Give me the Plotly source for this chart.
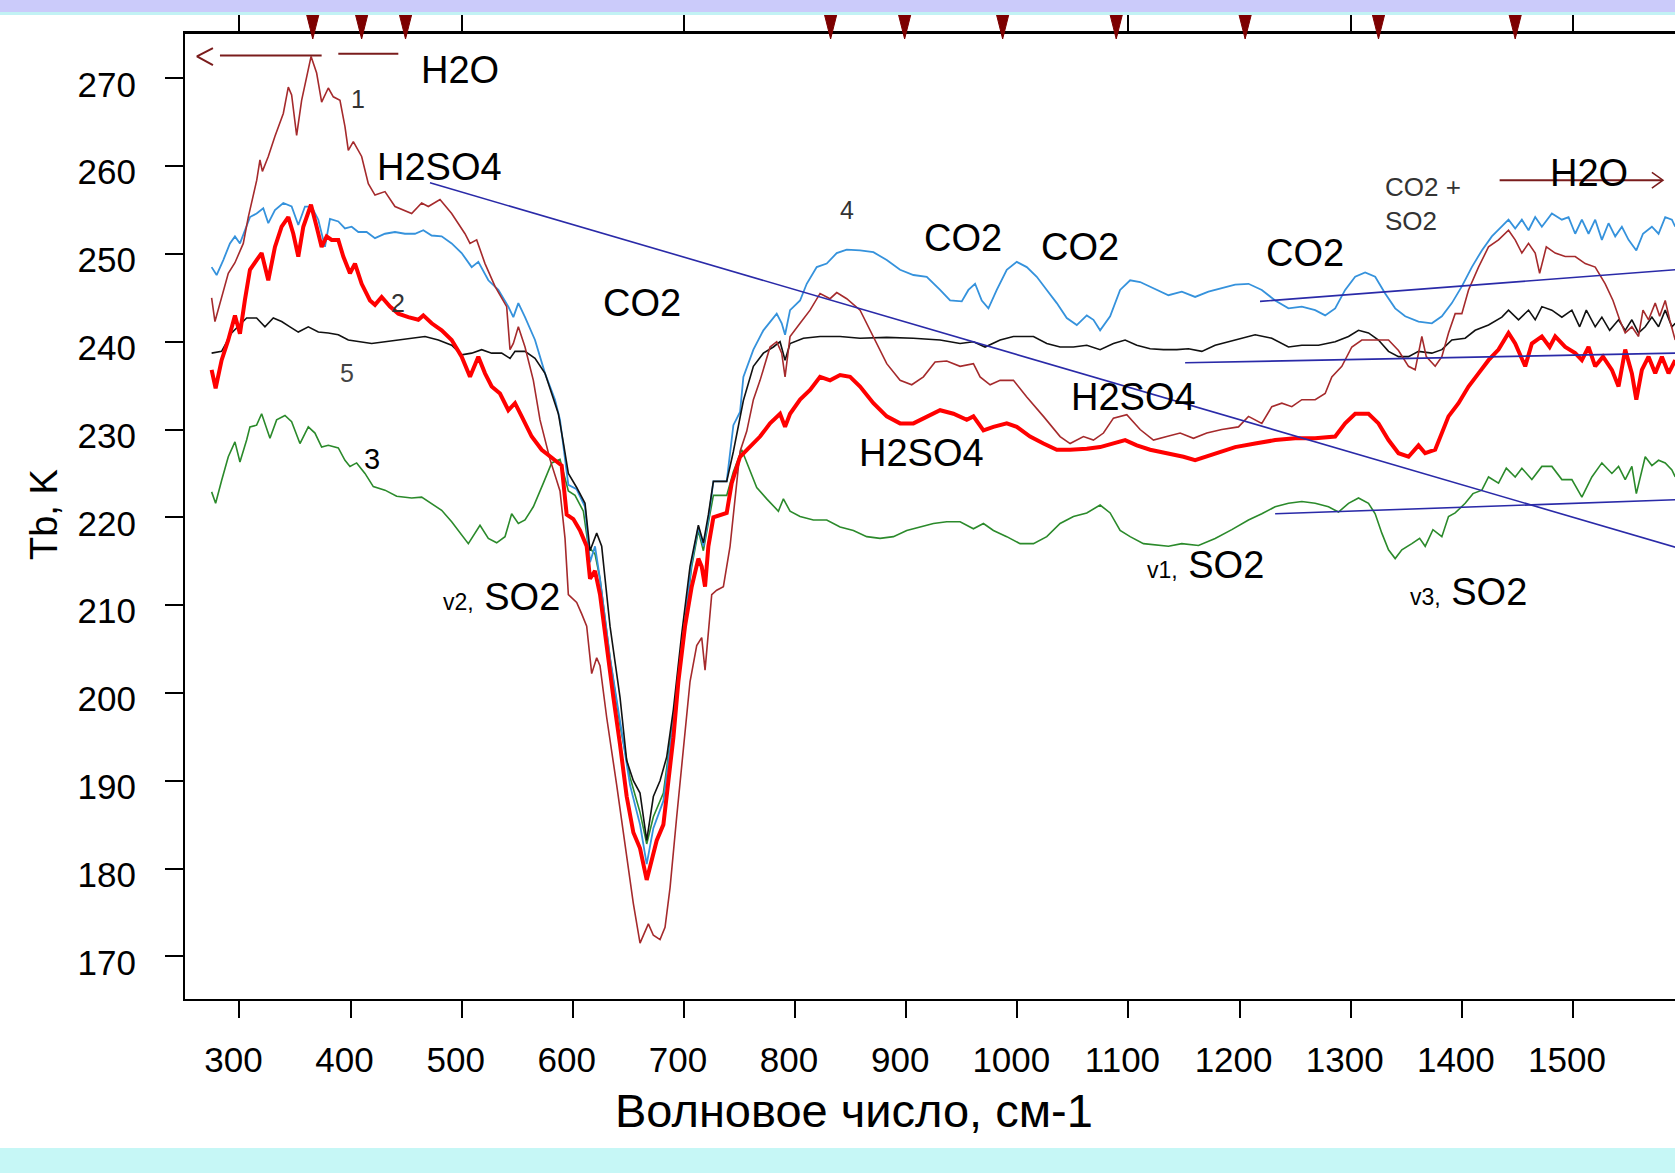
import plotly.graph_objects as go

# ---------------- data ----------------
# curve 1 (dark red)
C1_V = [275, 278, 290, 296, 303.5, 308, 315.6, 318.5, 320.7, 326, 332, 339.5, 344, 347, 351.5, 356, 364.5, 369.5, 374, 380,
        384.5, 390.5, 395, 398, 402.5, 410, 416, 422, 431, 440, 455, 464, 470, 480.5, 491, 503, 507.5, 513.5, 521, 530,
        540.5, 543.5, 546.5, 551, 557, 564.5, 570.5, 579.5, 588.5, 593, 596, 603.5, 608, 612.5, 617, 621.5, 624.5, 630.5,
        639.5, 648.5, 654.5, 660.5, 668, 672.5, 678.5, 683, 687.5, 693.5, 699.5, 705.5, 711.5, 716, 719, 722, 725, 729.5,
        735.5, 741.5, 746, 750.5, 756.5, 762.5, 768.5, 777.5, 783.5, 788, 791, 795.5, 804.5, 813.5, 822.5, 831.5, 837.5,
        846.5, 858.5, 870.5, 882.5, 894.5, 905, 915.5, 926, 936.5, 948.5, 960.5, 966.5, 975.5, 984.5, 996.5, 1008.5,
        1023.5, 1038.5, 1047.5, 1059.5, 1068.5, 1077.5, 1086.5, 1098.5, 1110.5, 1122.5, 1134.5, 1146.5, 1158.5, 1170.5,
        1184, 1199, 1208, 1220, 1229, 1238, 1247, 1256, 1268, 1277, 1283, 1292, 1301, 1310, 1322, 1334, 1343, 1352, 1358,
        1364, 1368, 1376, 1382, 1388, 1394, 1400, 1406, 1415, 1424, 1433, 1442, 1448, 1454, 1460, 1466, 1470, 1476, 1484,
        1493, 1502, 1511, 1520, 1529, 1536, 1542, 1547, 1553, 1559, 1563, 1568, 1574, 1578, 1583, 1587, 1592]
C1_T = [245, 242.3, 247.8, 249, 251.2, 254.2, 258.4, 260.7, 259.4, 261.1, 263.4, 266, 269, 268.1, 263.5, 267.5, 272.5, 270.6,
        267.3, 268.9, 267.9, 267.5, 264.5, 261.8, 262.8, 261.1, 258, 256.7, 257.1, 255.4, 254.6, 255.8, 255.4, 256.2, 254.6,
        252.3, 251.2, 251.6, 248.9, 246.3, 244, 239.1, 239.8, 241.7, 239.4, 235.6, 231.1, 226.6, 223, 217.6, 211.2, 210.3,
        209, 207.6, 202.2, 204, 203.1, 197.2, 189.5, 181.4, 176, 171.5, 173.7, 172.4, 171.9, 173.3, 177.8, 185.9, 193.6,
        201.3, 205.4, 206.3, 202.6, 206.7, 211.2, 211.7, 212.1, 216.7, 222.1, 227.5, 229.8, 233.4, 235.6, 239.4, 240, 238.7,
        236, 240.6, 242.1, 243.6, 245.5, 244.9, 245.6, 244.9, 243.6, 240.6, 237.5, 235.6, 235.1, 236, 237.7, 237.8, 237.2,
        237.5, 236, 235.1, 235.6, 235.6, 233.7, 231.5, 229.2, 228.4, 229.2, 228.8, 229.6, 231.3, 231.7, 230, 228.8, 229.2,
        229.6, 229, 229.6, 230, 230.3, 231.5, 230.7, 232.6, 233, 232.6, 233.4, 233.4, 234.1, 236, 237.2, 239.4, 240.2,
        240.2, 240.2, 239, 237.2, 236.8, 240.6, 238.3, 237.2, 238.3, 241, 243.2, 243.2, 245.9, 248.5, 250.8, 251.6, 252.7,
        251.6, 250.1, 251.2, 250.1, 247.8, 250.8, 250.1, 249.7, 249.7, 248.9, 248.5, 246.6, 244.7, 242.5, 241, 241.7,
        240.6, 243.6, 242.5, 244.4, 242.9, 244.7, 242.5, 240.2]

# curve 2 (bright red, thick)
C2_V = [275, 278.6, 284, 290, 296, 300.5, 305, 309.5, 315.5, 320, 326, 332, 338, 344, 348.5, 353, 357.5, 364.4, 369.5, 374,
        378.5, 383, 389, 393.5, 399.5, 404, 410, 417.5, 422, 428, 435.5, 443, 452, 461, 465.5, 473, 482, 491, 500, 507.5,
        515, 521, 527, 534.5, 542, 548, 554, 563, 572, 582.5, 590, 594.5, 600.5, 606.5, 612.5, 615.5, 620, 624.5, 630.5,
        636.5, 642.5, 648.5, 654.5, 660.5, 666.5, 671, 675.5, 681.5, 686, 690.5, 695, 701, 707, 713, 716, 719, 722, 726.5,
        738.5, 743, 750.5, 759.5, 768.5, 777.5, 786.5, 791, 795.5, 804.5, 813.5, 822.5, 831.5, 840.5, 849.5, 858.5, 870.5,
        882.5, 894.5, 906.5, 918.5, 930.5, 942.5, 954.5, 960.5, 969.5, 978.5, 990.5, 999.5, 1011.5, 1023.5, 1035.5, 1047.5,
        1062.5, 1074.5, 1086.5, 1097, 1107.5, 1119.5, 1134.5, 1149.5, 1160, 1178, 1196, 1214, 1232, 1250, 1268, 1286, 1295,
        1304, 1316, 1325, 1334, 1343, 1352, 1361, 1367, 1376, 1382, 1388, 1397, 1406, 1415, 1424, 1433, 1442, 1448, 1457,
        1463, 1472, 1479, 1484, 1493, 1502, 1508, 1514, 1520, 1527, 1535, 1541, 1547, 1553, 1557, 1562, 1568, 1574, 1580,
        1586, 1592]
C2_T = [236.8, 234.7, 237.9, 240.2, 243, 240.9, 244.8, 248.2, 249.3, 250.1, 247, 250.8, 253.1, 254.2, 252.3, 249.7, 253.1,
        255.6, 253.1, 250.8, 252, 251.6, 251.6, 249.7, 247.8, 248.9, 246.6, 244.7, 244.2, 245.1, 244, 243.2, 242.8, 242.5,
        243, 242.1, 241.3, 240.2, 238.3, 236, 238.3, 236.4, 234.9, 234.1, 232.2, 233, 231.5, 229.2, 227.7, 226.6, 225.9,
        220.3, 219.8, 218.5, 216.7, 213, 213.9, 211.2, 204.9, 199.5, 194.1, 188.2, 184.1, 182.3, 178.7, 181, 183.2, 185,
        189.5, 194.9, 201.3, 207.6, 212.1, 215.3, 214.4, 212.1, 216.7, 220, 220.5, 223.9, 226.9, 228, 229.2, 230.7, 231.8,
        230.3, 231.8, 233.4, 234.5, 236, 235.6, 236.2, 236, 234.9, 233, 231.5, 230.7, 230.7, 231.5, 232.2, 231.8, 231.1,
        231.5, 229.9, 230.3, 230.7, 230.3, 229.2, 228.4, 227.7, 227.7, 227.8, 228, 228.4, 228.8, 228.2, 227.7, 227.3,
        226.9, 226.5, 227.3, 228, 228.4, 228.8, 229, 229, 229.2, 230.7, 231.8, 231.8, 230.7, 228.8, 227.3, 226.9, 228.2,
        227.3, 227.7, 229.6, 231.5, 233, 234.9, 236.4, 237.9, 239.1, 241, 239.8, 237.2, 239.8, 240.6, 239.4, 240.6, 239.4,
        238.7, 237.9, 239.4, 237.2, 238.3, 236.8, 234.9, 239.1, 236.4, 233.4, 236.8, 238.3, 236.4, 238.3, 236.4, 237.9]

# curve 3 (green)
C3_V = [275, 278.6, 284, 290, 296, 300.5, 306.5, 309.5, 315.5, 320, 327.5, 333.5, 341, 347, 354.5, 362, 368, 374, 380, 389,
        395, 399.5, 405.5, 413, 420.5, 431, 441.5, 455, 464, 473, 482, 491, 498.5, 506, 516.5, 524, 531.5, 539, 545, 551,
        557, 564.5, 573.5, 581, 588.5, 596, 602, 609.5, 614, 620, 624.5, 633.5, 642.5, 651.5, 660.5, 666.5, 672.5, 681.5,
        690.5, 699.5, 707, 713, 717.5, 722, 726.5, 738.5, 744.5, 752, 758, 765.5, 774.5, 785, 789.5, 795.5, 804.5, 816.5,
        828.5, 840.5, 852.5, 864.5, 876.5, 888.5, 900.5, 912.5, 924.5, 936.5, 948.5, 960.5, 969.5, 978.5, 990.5, 1002.5,
        1014.5, 1026.5, 1038.5, 1050.5, 1062.5, 1074.5, 1083.5, 1092.5, 1101.5, 1113.5, 1125.5, 1136, 1148, 1163, 1178,
        1193, 1208, 1220, 1232, 1244, 1256, 1268, 1280, 1289, 1298, 1307, 1316, 1322, 1328, 1334, 1340, 1346, 1355, 1362,
        1367, 1374, 1382, 1388, 1394, 1403, 1410, 1418, 1424, 1433, 1440, 1448, 1454, 1463, 1472, 1481, 1490, 1499, 1508,
        1517, 1526, 1535, 1541, 1547, 1553, 1557, 1565, 1571, 1577, 1583, 1589, 1592]
C3_T = [222.9, 221.6, 224.2, 226.9, 228.6, 226.3, 228.8, 230.3, 230.5, 231.8, 229, 231.1, 231.6, 230.9, 228.4, 230.3, 229.6,
        228, 228.2, 227.9, 226.5, 225.8, 226.2, 225, 223.5, 223.1, 222.4, 222.2, 222.3, 221.6, 220.8, 219.5, 218.2, 217,
        219.1, 217.6, 217.1, 217.8, 220.4, 219.3, 219.7, 221.2, 223.9, 226.2, 226.6, 223, 222.5, 220.7, 216.7, 215.8, 213,
        204, 196.3, 190.4, 186.4, 182.8, 185.9, 188.6, 197.2, 206.7, 214.4, 218.5, 216.2, 219.4, 222.5, 222.5, 225.2, 227.7,
        225.7, 223.4, 222.1, 220.7, 222.1, 220.7, 220.1, 219.7, 219.7, 218.9, 218.5, 217.8, 217.6, 217.8, 218.5, 218.9,
        219.3, 219.5, 219.5, 218.7, 219.3, 218.5, 217.8, 217, 217, 217.8, 219.3, 220.1, 220.5, 221.4, 220.5, 218.5, 217.8,
        217, 216.8, 216.7, 217, 216.8, 217.6, 218.6, 219.7, 220.4, 221.2, 221.6, 221.8, 221.6, 221.2, 220.6, 221.6, 222.2,
        221.6, 220.4, 218.2, 216.3, 215.3, 216.3, 217, 217.6, 216.7, 218.6, 217.8, 220.1, 220.5, 221.6, 222.7, 223.1,
        224.6, 223.9, 225.6, 224.6, 225.6, 224.3, 225.8, 225.8, 224.3, 224.3, 222.3, 224.6, 226.2, 225, 225.8, 224.3,
        225.8, 222.7, 226.9, 225.9, 226.5, 226.2, 225.4, 224.6]

# curve 4 (light blue)
C4_V = [275, 279.5, 285.5, 291.5, 296, 300.5, 305, 309.5, 315.5, 321.5, 326, 332, 339.5, 347, 353, 359, 365, 371, 377, 381.5,
        389, 395, 401, 407, 414.5, 422, 431, 440, 449, 458, 465.5, 473, 482, 491, 500, 509, 515, 524, 533, 542, 546.5, 551,
        557, 566, 575, 584, 588.5, 593, 596, 603.5, 611, 615.5, 620, 624.5, 633.5, 642.5, 651.5, 660.5, 666.5, 672.5,
        681.5, 690.5, 699.5, 707, 713, 717.5, 722, 726.5, 738.5, 744.5, 750.5, 753.5, 762.5, 771.5, 783.5, 788, 791,
        795.5, 804.5, 810.5, 819.5, 828.5, 837.5, 846.5, 858.5, 870.5, 882.5, 894.5, 906.5, 918.5, 930.5, 939.5, 950, 956,
        962, 968, 974, 981.5, 990.5, 999.5, 1008.5, 1017.5, 1026.5, 1035.5, 1044.5, 1053.5, 1062.5, 1068.5, 1074.5,
        1083.5, 1092.5, 1101.5, 1110.5, 1122.5, 1136, 1148, 1160, 1172, 1184, 1196, 1208, 1220, 1232, 1244, 1256, 1268,
        1277, 1286, 1295, 1304, 1313, 1322, 1331, 1340, 1349, 1361, 1373, 1382, 1391, 1400, 1409, 1418, 1427, 1436, 1442,
        1448, 1454, 1460, 1466, 1472, 1481, 1490, 1496, 1502, 1508, 1514, 1520, 1526, 1532, 1538, 1544, 1550, 1557, 1563,
        1571, 1577, 1583, 1589, 1592]
C4_T = [248.5, 247.6, 249.3, 251.2, 252, 251.2, 252.7, 254.2, 254.6, 255.2, 253.5, 255, 255.8, 255.4, 253.3, 255.4, 255.4,
        253.9, 250.8, 254, 253.7, 252.9, 253.1, 252.5, 252.5, 251.8, 252.3, 252.5, 252.3, 252.3, 252.7, 252.1, 252, 251.2,
        250.1, 248.5, 249.1, 247, 245.9, 244, 242.8, 244.4, 242.8, 240.2, 236.4, 233.4, 231.1, 226.6, 223.7, 223.2, 221.2,
        214.9, 216.7, 213, 204, 196.8, 189.5, 185, 180.5, 184.6, 187.7, 196.8, 206.7, 214.9, 218.9, 216.7, 219.8, 224.1,
        224.1, 230.5, 232, 236, 239.1, 241.3, 243.2, 242.1, 240.8, 243.6, 244.7, 246.6, 248.5, 248.9, 250.1, 250.5, 250.4,
        250.2, 249.3, 248.2, 247.6, 247.4, 245.9, 244.7, 244.6, 245.9, 246.6, 244.7, 243.8, 245.9, 248.2, 249.1, 248.5,
        247.4, 245.9, 244.4, 242.7, 241.9, 243, 242.5, 241.3, 242.9, 245.9, 247, 246.8, 246.1, 245.3, 245.7, 245.1, 245.7,
        246.1, 246.5, 246.6, 245.9, 244.7, 243.8, 244, 243.6, 243, 243.8, 245.9, 247.4, 247.9, 247.4, 245.5, 243.8, 242.9,
        242.3, 242.1, 242.9, 244.4, 246.3, 248.5, 250.4, 252, 253.1, 253.9, 252.9, 253.9, 252.7, 254.2, 253.1, 254.6,
        253.9, 254.2, 252.3, 253.9, 252.3, 253.9, 251.6, 253.5, 252, 253.1, 251.6, 250.4, 252.3, 253.1, 252.3, 254.2,
        253.9, 253.1]

# curve 5 (black)
C5_V = [275, 284, 293, 300.5, 306.5, 315.5, 323, 330.5, 338, 345.5, 353, 362, 371, 380, 389, 398, 410, 419, 431, 443, 455,
        467, 479, 491, 500, 509, 518, 527, 536, 543.5, 548, 557, 566, 575, 581, 587, 591.5, 596, 603.5, 611, 615.5, 621.5,
        626, 633.5, 642.5, 648.5, 654.5, 660.5, 666.5, 672.5, 678.5, 684.5, 690.5, 698, 705.5, 713, 717.5, 722, 726.5,
        738.5, 744.5, 753.5, 762.5, 771.5, 780.5, 786.5, 791, 795.5, 807.5, 822.5, 840.5, 858.5, 882.5, 906.5, 930.5,
        948.5, 960.5, 971, 984.5, 996.5, 1014.5, 1026.5, 1038.5, 1050.5, 1062.5, 1074.5, 1086.5, 1097, 1107.5, 1119.5,
        1131.5, 1143.5, 1154, 1166, 1178, 1196, 1214, 1229, 1244, 1256, 1271, 1286, 1298, 1307, 1316, 1325, 1334, 1343,
        1352, 1361, 1373, 1382, 1391, 1403, 1412, 1424, 1436, 1442, 1451, 1460, 1466, 1472, 1481, 1490, 1499, 1506, 1512,
        1520, 1526, 1533, 1541, 1547, 1553, 1559, 1565, 1571, 1577, 1583, 1589, 1592]
C5_T = [238.7, 238.9, 241, 241.9, 242.7, 242.7, 241.7, 242.7, 242.3, 241.7, 241.1, 241.7, 241.1, 241, 240.8, 240.2, 240,
        239.8, 240, 240.2, 240.4, 240.6, 240.2, 239.6, 238.5, 238.7, 239.1, 238.7, 238.7, 238.1, 238.9, 238.9, 238.1,
        236.4, 234.1, 231.8, 228.5, 225, 223.4, 221.6, 216.2, 218.2, 216.7, 207.6, 199.5, 192.3, 190, 188.6, 183.2, 188.2,
        190, 192.7, 198.1, 206.7, 214.4, 219.1, 217.1, 220.3, 224.1, 224.1, 227.5, 233.3, 237.2, 238.7, 239.4, 240, 237.9,
        239.8, 240.4, 240.6, 240.6, 240.4, 240.5, 240.4, 240.2, 239.8, 240, 239.4, 240.2, 240.6, 240.6, 239.8, 239.4,
        239.4, 239.6, 239.1, 239.8, 240.2, 239.6, 239.2, 239.1, 239.1, 239.2, 238.9, 239.6, 240.2, 240.8, 240.4, 239.4,
        239.6, 239.6, 240, 240.6, 241.3, 241, 240.2, 238.9, 238.3, 238.3, 238.9, 238.7, 239.1, 240.2, 240.4, 241.3, 241.9,
        242.8, 243.6, 242.5, 243.6, 242.5, 244, 243.6, 242.8, 243.6, 241.7, 243.6, 241.7, 242.8, 241.3, 242.5, 241.3,
        242.5, 241, 241.7, 242.8, 241.7, 243.6, 241.7, 242.1]

# leader lines (navy)
LEAD_V = [[471.5, 1592], [1218.4, 1592], [1151, 1592], [1232, 1592]]
LEAD_T = [[258.1, 216.6], [244.6, 248.2], [237.6, 238.7], [220.4, 222.0]]

# H2O arrows (dark red)
ARROW_L_V = [282.5, 374]
ARROW_L2_V = [389, 443]
ARROW_L_T = 272.6
ARROW_HEAD_L_V = [276.2, 261.8, 276.2]
ARROW_HEAD_L_T = [273.45, 272.5, 271.5]
ARROW_R_V = [1434, 1580]
ARROW_R_T = 258.4
ARROW_HEAD_R_V = [1571, 1581, 1571]
ARROW_HEAD_R_T = [259.3, 258.4, 257.5]

# markers on top (wavenumbers)
TRI_V = [366, 410, 449.5, 832, 898.6, 986.8, 1089, 1205, 1325, 1448]

X_TICKS = [300, 400, 500, 600, 700, 800, 900, 1000, 1100, 1200, 1300, 1400, 1500]
X_TOP_TICKS = [300, 500, 700, 900, 1100, 1300, 1500]
Y_TICKS = [170, 180, 190, 200, 210, 220, 230, 240, 250, 260, 270]

LABELS = [
    ("H2O", 498.5, 270.9, 38, "#000", "center"),
    ("1", 407, 267.7, 25, "#333", "center"),
    ("H2SO4", 480.5, 259.9, 38, "#000", "center"),
    ("CO2", 662, 244.4, 38, "#000", "center"),
    ("2", 443, 244.4, 25, "#333", "center"),
    ("5", 396.5, 236.4, 25, "#444", "center"),
    ("3", 419, 226.7, 29, "#000", "center"),
    ("4", 846.5, 255.0, 25, "#333", "center"),
    ("CO2", 951.5, 251.8, 38, "#000", "center"),
    ("CO2", 1056.5, 250.8, 38, "#000", "center"),
    ("H2SO4", 1104.4, 233.7, 38, "#000", "center"),
    ("H2SO4", 914, 227.3, 38, "#000", "center"),
    ("CO2", 1258.9, 250.1, 38, "#000", "center"),
    ("H2O", 1514, 259.2, 38, "#000", "center"),
]
SO2_LABELS = [("v2,", 590.3, 210.9), ("v1,", 1223.8, 214.6), ("v3,", 1460, 211.5)]
SMALL_LABELS = [("CO2 +", 1329.3, 257.65), ("SO2", 1329.3, 253.7)]

# ---------------- figure ----------------
FONT = "Liberation Sans, Arial, sans-serif"
W, H = 1675, 1173
L, R, T, B = 185, 0, 34, 174
PW, PH = W - L - R, H - T - B


def px(xp):
    return (xp - L) / PW


def py(yp):
    return (H - B - yp) / PH


fig = go.Figure()


def line(v, t, color, width, xaxis="x"):
    fig.add_trace(go.Scatter(x=v, y=t, mode="lines", line=dict(color=color, width=width),
                             showlegend=False, hoverinfo="skip", xaxis=xaxis))


line(C3_V, C3_T, "#2b8a2b", 1.6)
line(C4_V, C4_T, "#3592dc", 1.8)
line(C5_V, C5_T, "#111111", 1.6)
line(C1_V, C1_T, "#a52a2c", 1.6)
line(C2_V, C2_T, "#ff0000", 4)
for lv, lt in zip(LEAD_V, LEAD_T):
    line(lv, lt, "#2a2aa8", 1.6)

AR = "#7a1c1c"
line(ARROW_L_V, [ARROW_L_T] * 2, AR, 2)
line(ARROW_L2_V, [ARROW_L_T + 0.2] * 2, AR, 2)
line(ARROW_HEAD_L_V, ARROW_HEAD_L_T, AR, 2)
line(ARROW_R_V, [ARROW_R_T] * 2, AR, 2, xaxis="x2")
line(ARROW_HEAD_R_V, ARROW_HEAD_R_T, AR, 1.5, xaxis="x2")

ann = []
for txt, v, t, size, col, anc in LABELS:
    ann.append(dict(x=v, y=t, xref="x", yref="y", text=txt, showarrow=False,
                    font=dict(size=size, color=col, family=FONT), xanchor=anc, yanchor="middle"))
for sub, v, t in SO2_LABELS:
    ann.append(dict(x=v, y=t, xref="x", yref="y", showarrow=False, xanchor="right", yanchor="middle",
                    text=f"<span style='font-size:23px'>{sub}</span> SO2",
                    font=dict(size=38, color="#000", family=FONT)))
for txt, v, t in SMALL_LABELS:
    ann.append(dict(x=v, y=t, xref="x", yref="y", text=txt, showarrow=False, xanchor="left", yanchor="middle",
                    font=dict(size=26, color="#333", family=FONT)))
ann.append(dict(x=px(854), y=py(1110), xref="paper", yref="paper", text="Волновое число, см-1",
                showarrow=False, xanchor="center", yanchor="middle",
                font=dict(size=47, color="#000", family=FONT)))
ann.append(dict(x=px(44), y=py(515), xref="paper", yref="paper", text="Tb, K", textangle=-90,
                showarrow=False, xanchor="center", yanchor="middle",
                font=dict(size=38, color="#000", family=FONT)))

shapes = []
half = 7.5
for v in TRI_V:
    shapes.append(dict(type="path", xref="x", yref="paper", layer="above",
                       path=f"M {v - half},{py(6)} L {v + half},{py(6)} L {v},{py(39)} Z",
                       fillcolor="#7d0000", line=dict(color="#7d0000", width=1)))
shapes += [
    dict(type="rect", xref="paper", yref="paper", x0=px(0), x1=px(W), y0=py(12), y1=py(0),
         fillcolor="#cbcbfa", line=dict(width=0), layer="above"),
    dict(type="rect", xref="paper", yref="paper", x0=px(0), x1=px(W), y0=py(15), y1=py(12),
         fillcolor="#c2f2f4", line=dict(width=0), layer="above"),
    dict(type="rect", xref="paper", yref="paper", x0=px(0), x1=px(W), y0=py(H), y1=py(1148),
         fillcolor="#c6f7f6", line=dict(width=0), layer="above"),
]

XR = [251.05, 1591.8]
YR = [165.14, 275.05]
fig.update_layout(
    width=W, height=H, margin=dict(l=L, r=R, t=T, b=B, pad=0),
    paper_bgcolor="white", plot_bgcolor="white",
    font=dict(family=FONT, color="#000"),
    showlegend=False,
    annotations=ann, shapes=shapes,
    xaxis=dict(range=XR, tickvals=X_TICKS, ticks="outside", ticklen=17, tickwidth=1.5, tickcolor="#000",
               showline=True, linecolor="#000", linewidth=2, showgrid=False, zeroline=False,
               tickfont=dict(size=35, family=FONT, color="#000"), ticklabelstandoff=12, ticklabelshift=-6),
    xaxis2=dict(range=XR, overlaying="x", side="top", anchor="y", tickvals=X_TOP_TICKS, ticks="outside",
                ticklen=22, tickwidth=1.5, tickcolor="#000", showticklabels=False,
                showline=True, linecolor="#000", linewidth=3, showgrid=False, zeroline=False),
    yaxis=dict(range=YR, tickvals=Y_TICKS, ticks="outside", ticklen=18, tickwidth=1.5, tickcolor="#000",
               showline=True, linecolor="#000", linewidth=2, showgrid=False, zeroline=False,
               tickfont=dict(size=35, family=FONT, color="#000"), ticklabelstandoff=22, ticklabelshift=6),
)

fig.write_html("out.html", config=dict(displayModeBar=False),
               post_script="document.body.style.margin='0';document.body.style.overflow='hidden';")
